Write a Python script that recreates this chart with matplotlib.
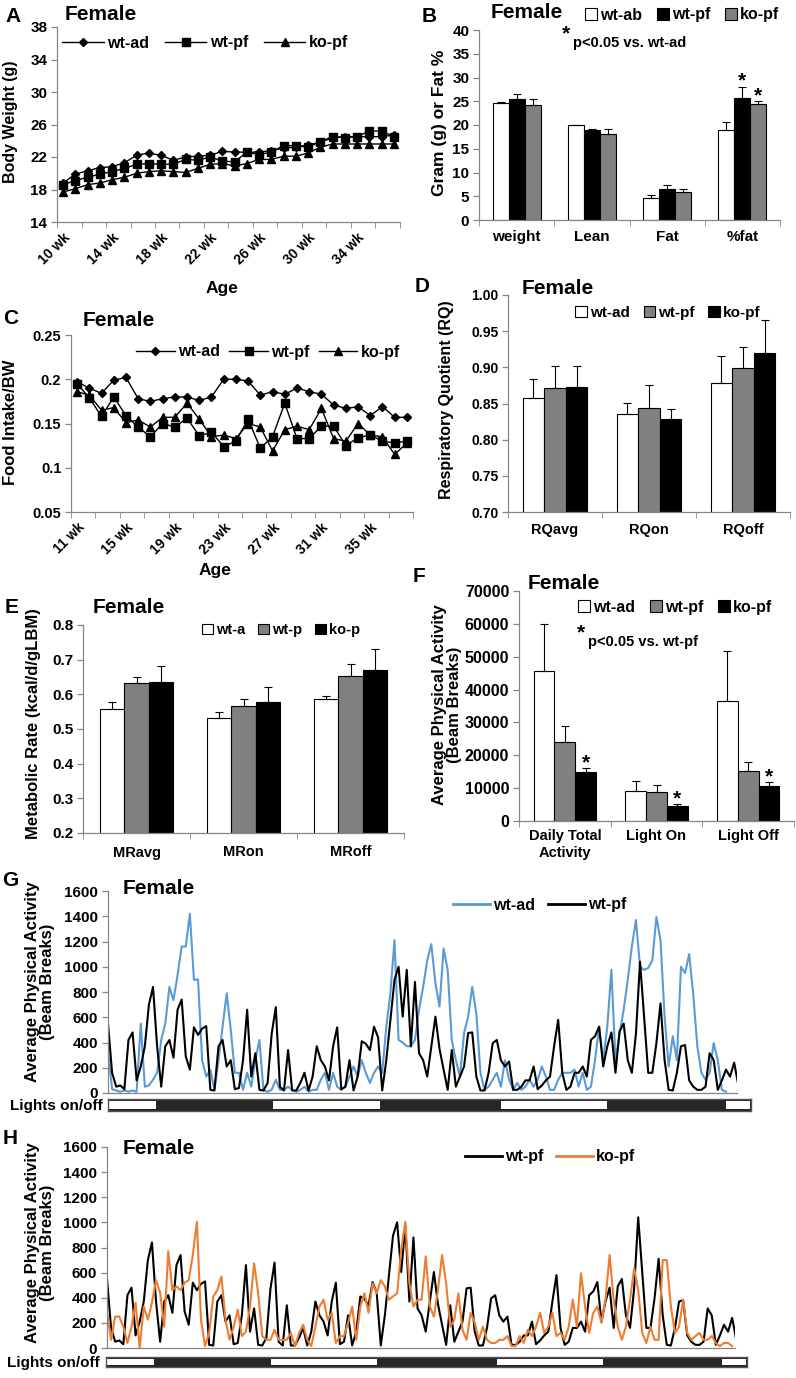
import numpy as np
import matplotlib
matplotlib.use('Agg')
import matplotlib.pyplot as plt
from matplotlib.patches import Patch
from matplotlib.lines import Line2D

plt.rcParams['font.family'] = ['Liberation Sans', 'DejaVu Sans']
plt.rcParams['font.weight'] = 'bold'

# ---------------- data ----------------
# A: body weight by age (weeks 10..37)
weeks_a = list(range(10, 38))
bw_wt_ad = [18.8, 19.9, 20.3, 20.7, 20.8, 21.3, 22.2, 22.5, 22.2, 21.6, 22.0, 22.1, 22.2, 22.7,
            22.6, 22.6, 22.6, 22.8, 23.1, 23.2, 23.5, 23.8, 24.4, 24.5, 24.5, 24.5, 24.5, 24.7]
bw_wt_pf = [18.6, 19.1, 19.5, 19.9, 20.2, 20.6, 21.1, 21.2, 21.1, 21.1, 21.7, 21.6, 22.0, 21.5,
            21.4, 22.6, 22.3, 22.6, 23.4, 23.4, 23.2, 23.9, 24.5, 24.4, 24.5, 25.2, 25.2, 24.5]
bw_ko_pf = [17.7, 18.1, 18.6, 18.8, 19.2, 19.5, 20.0, 20.2, 20.3, 20.2, 20.1, 20.6, 21.1, 21.2,
            20.9, 21.2, 21.7, 21.7, 22.1, 22.1, 22.5, 23.2, 23.6, 23.6, 23.6, 23.6, 23.6, 23.6]

# B: body composition
comp_cats = ['weight', 'Lean', 'Fat', '%fat']
comp_wt_ad = [24.6, 19.9, 4.7, 18.9]
comp_wt_ad_err = [0.3, 0.2, 0.6, 1.8]
comp_wt_pf = [25.5, 18.9, 6.5, 25.6]
comp_wt_pf_err = [1.0, 0.2, 0.8, 2.5]
comp_ko_pf = [24.2, 18.2, 6.0, 24.4]
comp_ko_pf_err = [1.3, 1.0, 0.5, 0.7]

# C: food intake / BW (weeks 11..38)
weeks_c = list(range(11, 39))
fi_wt_ad = [0.197, 0.190, 0.184, 0.199, 0.202, 0.178, 0.175, 0.178, 0.180, 0.180, 0.176, 0.180, 0.200, 0.200,
            0.198, 0.182, 0.186, 0.183, 0.190, 0.186, 0.183, 0.171, 0.167, 0.169, 0.159, 0.169, 0.157, 0.157]
fi_wt_pf = [0.195, 0.179, 0.158, 0.180, 0.159, 0.146, 0.135, 0.150, 0.146, 0.156, 0.136, 0.140, 0.124, 0.130,
            0.155, 0.122, 0.135, 0.173, 0.133, 0.133, 0.147, 0.147, 0.125, 0.134, 0.137, 0.130, 0.128, 0.130]
fi_ko_pf = [0.186, 0.182, 0.165, 0.168, 0.151, 0.154, 0.146, 0.157, 0.157, 0.173, 0.155, 0.135, 0.137, 0.133,
            0.150, 0.146, 0.119, 0.143, 0.147, 0.143, 0.167, 0.133, 0.130, 0.150, 0.137, 0.135, 0.115, 0.128]

# D: respiratory quotient
rq_cats = ['RQavg', 'RQon', 'RQoff']
rq_wt_ad = [0.857, 0.835, 0.878]
rq_wt_ad_err = [0.027, 0.016, 0.038]
rq_wt_pf = [0.871, 0.844, 0.899]
rq_wt_pf_err = [0.031, 0.031, 0.029]
rq_ko_pf = [0.873, 0.828, 0.920]
rq_ko_pf_err = [0.029, 0.014, 0.046]

# E: metabolic rate
mr_cats = ['MRavg', 'MRon', 'MRoff']
mr_wt_ad = [0.558, 0.531, 0.587]
mr_wt_ad_err = [0.021, 0.019, 0.009]
mr_wt_pf = [0.634, 0.565, 0.654]
mr_wt_pf_err = [0.015, 0.021, 0.034]
mr_ko_pf = [0.635, 0.579, 0.670]
mr_ko_pf_err = [0.047, 0.043, 0.061]

# F: physical activity
pa_cats = ['Daily Total\nActivity', 'Light On', 'Light Off']
pa_wt_ad = [45600, 9200, 36600]
pa_wt_ad_err = [14300, 3000, 15200]
pa_wt_pf = [23900, 8900, 15300]
pa_wt_pf_err = [5000, 2200, 2700]
pa_ko_pf = [15000, 4600, 10600]
pa_ko_pf_err = [1000, 500, 1300]

# G/H: activity time course (one value per 26 min bin)
sample_min = 26
act_wt_pf = [550, 160, 50, 60, 30, 420, 480, 100, 210, 370,
             700, 840, 370, 50, 370, 420, 280, 660, 740, 290,
             185, 520, 460, 510, 530, 25, 20, 370, 420, 210,
             260, 30, 40, 260, 660, 130, 315, 25, 20, 80,
             470, 680, 50, 20, 340, 20, 20, 80, 160, 20,
             130, 370, 260, 210, 100, 370, 520, 30, 50, 260,
             20, 130, 410, 390, 340, 525, 440, 20, 260, 580,
             895, 1000, 605, 975, 370, 880, 315, 260, 130, 370,
             605, 350, 185, 25, 340, 50, 130, 210, 475, 480,
             130, 20, 20, 160, 395, 420, 260, 210, 250, 25,
             25, 50, 100, 100, 210, 30, 60, 100, 130, 370,
             580, 160, 25, 50, 160, 160, 210, 130, 420, 450,
             525, 210, 370, 480, 160, 490, 550, 260, 160, 470,
             1040, 600, 160, 160, 395, 710, 260, 25, 20, 160,
             370, 380, 100, 50, 25, 25, 50, 315, 260, 25,
             100, 185, 130, 240, 65]
act_wt_ad = [340, 30, 20, 10, 20, 10, 20, 10, 550, 50,
             60, 105, 160, 420, 550, 840, 735, 935, 1160, 1160,
             1420, 895, 900, 260, 130, 185, 25, 260, 525, 790,
             500, 160, 160, 25, 160, 50, 260, 420, 20, 10,
             25, 105, 25, 25, 50, 25, 10, 25, 50, 10,
             25, 25, 105, 160, 25, 160, 50, 25, 50, 130,
             210, 130, 260, 160, 80, 160, 210, 160, 525, 790,
             1210, 420, 400, 370, 370, 420, 660, 840, 1050, 1180,
             870, 685, 1145, 975, 420, 260, 130, 475, 605, 840,
             630, 160, 25, 50, 105, 160, 50, 260, 105, 25,
             80, 25, 50, 105, 50, 105, 210, 130, 25, 25,
             105, 160, 160, 160, 185, 50, 160, 25, 50, 260,
             525, 260, 525, 975, 260, 470, 660, 895, 1160, 1370,
             1000, 975, 990, 1050, 1395, 1210, 605, 210, 450, 260,
             1000, 950, 1100, 780, 370, 160, 105, 160, 395, 260,
             25, 10]
act_ko_pf = [290, 65, 250, 250, 170, 40, 170, 360, 0, 330,
             225, 360, 540, 440, 170, 770, 460, 490, 460, 520,
             540, 740, 1005, 225, 15, 120, 410, 460, 570, 225,
             65, 170, 305, 95, 130, 330, 675, 435, 95, 65,
             65, 145, 65, 65, 65, 120, 15, 120, 185, 65,
             15, 170, 330, 385, 225, 280, 40, 95, 95, 200,
             330, 65, 330, 435, 280, 515, 435, 540, 490, 385,
             410, 435, 780, 1005, 515, 330, 385, 385, 730, 330,
             250, 460, 740, 515, 170, 225, 435, 145, 65, 280,
             200, 65, 170, 65, 40, 40, 65, 65, 95, 15,
             15, 95, 40, 145, 95, 170, 280, 120, 170, 280,
             95, 120, 65, 170, 385, 170, 595, 330, 120, 280,
             330, 200, 385, 740, 385, 170, 65, 170, 385, 635,
             465, 120, 40, 170, 65, 65, 700, 700, 330, 120,
             170, 385, 120, 65, 95, 120, 65, 65, 95, 40,
             15, 40, 40, 15]
# light phases in hours (on, off, on, ...)
light_edges = [0, 5.2, 17.3, 28.9, 41.3, 52.8, 65.1, 67.9]

# ---------------- figure helpers ----------------
W, H = 796, 1378
fig = plt.figure(figsize=(W / 100, H / 100), dpi=100)
AXC = '#868686'
GRAY = '#808080'


def add_ax(l, t, r, b):
    return fig.add_axes([l / W, 1 - b / H, (r - l) / W, (b - t) / H])


def ftext(x, y, s, **kw):
    kw.setdefault('va', 'center')
    kw.setdefault('fontweight', 'bold')
    fig.text(x / W, 1 - y / H, s, **kw)


def style(ax, size):
    for s in ['top', 'right']:
        ax.spines[s].set_visible(False)
    for s in ['left', 'bottom']:
        ax.spines[s].set_color(AXC)
        ax.spines[s].set_linewidth(0.9)
    ax.tick_params(colors=AXC, labelcolor='black', labelsize=size, width=0.9, length=4, pad=3)
    for lab in ax.get_yticklabels():
        lab.set_fontweight('bold')


def cat_axis(ax, n, labels, pad):
    ax.set_xlim(-0.5, n - 0.5)
    ax.set_xticks(np.arange(n))
    ax.set_xticklabels(labels, fontweight='bold')
    ax.set_xticks(np.arange(-0.5, n, 1), minor=True)
    ax.tick_params(axis='x', which='major', length=0, pad=pad)
    ax.tick_params(axis='x', which='minor', length=4, color=AXC)


def bars(ax, series, errs, colors, width):
    x = np.arange(len(series[0]))
    for k, (v, e, c) in enumerate(zip(series, errs, colors)):
        xs = x + (k - 1) * width
        ax.bar(xs, v, width, color=c, edgecolor='black', linewidth=0.8, zorder=2)
        ax.errorbar(xs, v, yerr=[np.zeros(len(v)), e], fmt='none', ecolor='black',
                    elinewidth=0.8, capsize=3, capthick=0.8, zorder=3)
    return x


def bar_legend(ax, labels, colors, cx, cy, size):
    hs = [Patch(facecolor=c, edgecolor='black', linewidth=0.8) for c in colors]
    ax.legend(hs, labels, loc='center', bbox_to_anchor=(cx / W, 1 - cy / H),
              bbox_transform=fig.transFigure, ncol=3, frameon=False, fontsize=size,
              handlelength=0.75, handleheight=0.75, handletextpad=0.2, columnspacing=0.9,
              prop={'weight': 'bold', 'size': size})


def star(ax, x, top, size=15):
    ax.annotate('*', (x, top), xytext=(0, -3), textcoords='offset points',
                ha='center', va='bottom', fontsize=size, fontweight='bold')


# ---------------- A ----------------
ax = add_ax(57, 27, 400, 222)
xa = np.arange(len(weeks_a))
ax.plot(xa, bw_wt_ad, '-D', color='black', ms=4.5, lw=1, label='wt-ad')
ax.plot(xa, bw_wt_pf, '-s', color='black', ms=6, lw=1, label='wt-pf')
ax.plot(xa, bw_ko_pf, '-^', color='black', ms=6, lw=1, label='ko-pf')
ax.set_ylim(14, 38)
ax.set_yticks(range(14, 39, 4))
style(ax, 11)
ax.set_xlim(-0.5, len(xa) - 0.5)
ax.set_xticks(xa[::4])
ax.set_xticklabels([f'{w} wk' for w in weeks_a[::4]], rotation=45, ha='right',
                   rotation_mode='anchor', fontweight='bold', fontsize=10)
ax.set_xticks(np.arange(-0.5, len(xa), 2), minor=True)
ax.tick_params(axis='x', which='major', length=0, pad=6)
ax.tick_params(axis='x', which='minor', length=4, color=AXC)
ax.legend(loc='center', bbox_to_anchor=(205 / W, 1 - 43 / H), bbox_transform=fig.transFigure,
          ncol=3, frameon=False, handlelength=2.6, handletextpad=0.2, columnspacing=1.0,
          prop={'weight': 'bold', 'size': 11.5})
ftext(5, 17, 'A', fontsize=15)
ftext(65, 15, 'Female', fontsize=15)
ftext(11, 122, 'Body Weight (g)', rotation=90, ha='center', fontsize=11.5)
ftext(222, 288, 'Age', ha='center', fontsize=12.5)

# ---------------- B ----------------
ax = add_ax(479, 30, 780, 220)
xb = bars(ax, [comp_wt_ad, comp_wt_pf, comp_ko_pf],
          [comp_wt_ad_err, comp_wt_pf_err, comp_ko_pf_err], ['white', 'black', GRAY], 0.213)
ax.set_ylim(0, 40)
ax.set_yticks(range(0, 41, 5))
style(ax, 11)
cat_axis(ax, len(comp_cats), comp_cats, 7)
ax.tick_params(axis='x', labelsize=11)
star(ax, xb[3], comp_wt_pf[3] + comp_wt_pf_err[3])
star(ax, xb[3] + 0.213, comp_ko_pf[3] + comp_ko_pf_err[3])
bar_legend(ax, ['wt-ab', 'wt-pf', 'ko-pf'], ['white', 'black', GRAY], 682, 15, 11.5)
ftext(422, 17, 'B', fontsize=15)
ftext(491, 12, 'Female', fontsize=15)
ftext(566, 34, '*', ha='center', fontsize=15)
ftext(573, 43, 'p<0.05 vs. wt-ad', fontsize=10.5)
ftext(440, 123, 'Gram (g) or Fat %', rotation=90, ha='center', fontsize=12.5)

# ---------------- C ----------------
ax = add_ax(71, 335, 413, 512)
xc = np.arange(len(weeks_c))
ax.plot(xc, fi_wt_ad, '-D', color='black', ms=4.5, lw=1, label='wt-ad')
ax.plot(xc, fi_wt_pf, '-s', color='black', ms=6, lw=1, label='wt-pf')
ax.plot(xc, fi_ko_pf, '-^', color='black', ms=6, lw=1, label='ko-pf')
c_ticks = [0.05, 0.1, 0.15, 0.2, 0.25]
ax.set_ylim(0.05, 0.25)
ax.set_yticks(c_ticks)
ax.set_yticklabels([f'{v:g}' for v in c_ticks])
style(ax, 10.5)
ax.set_xlim(-0.5, len(xc) - 0.5)
ax.set_xticks(xc[::4])
ax.set_xticklabels([f'{w} wk' for w in weeks_c[::4]], rotation=45, ha='right',
                   rotation_mode='anchor', fontweight='bold', fontsize=10)
ax.set_xticks(np.arange(-0.5, len(xc), 2), minor=True)
ax.tick_params(axis='x', which='major', length=0, pad=6)
ax.tick_params(axis='x', which='minor', length=4, color=AXC)
ax.legend(loc='center', bbox_to_anchor=(268 / W, 1 - 352 / H), bbox_transform=fig.transFigure,
          ncol=3, frameon=False, handlelength=2.4, handletextpad=0.2, columnspacing=0.6,
          prop={'weight': 'bold', 'size': 11.5})
ftext(3, 318, 'C', fontsize=15)
ftext(83, 320, 'Female', fontsize=15)
ftext(11, 422, 'Food Intake/BW', rotation=90, ha='center', fontsize=12)
ftext(215, 571, 'Age', ha='center', fontsize=12.5)

# ---------------- D ----------------
ax = add_ax(508, 295, 790, 512)
bars(ax, [rq_wt_ad, rq_wt_pf, rq_ko_pf], [rq_wt_ad_err, rq_wt_pf_err, rq_ko_pf_err],
     ['white', GRAY, 'black'], 0.23)
ax.set_ylim(0.70, 1.00)
d_ticks = [0.70, 0.75, 0.80, 0.85, 0.90, 0.95, 1.00]
ax.set_yticks(d_ticks)
ax.set_yticklabels([f'{v:.2f}' for v in d_ticks])
style(ax, 10)
cat_axis(ax, len(rq_cats), rq_cats, 8)
ax.tick_params(axis='x', labelsize=10.5)
bar_legend(ax, ['wt-ad', 'wt-pf', 'ko-pf'], ['white', GRAY, 'black'], 668, 313, 11)
ftext(415, 287, 'D', fontsize=15)
ftext(522, 288, 'Female', fontsize=15)
ftext(446, 400, 'Respiratory Quotient (RQ)', rotation=90, ha='center', fontsize=11.5)

# ---------------- E ----------------
ax = add_ax(83, 625, 404, 833)
bars(ax, [mr_wt_ad, mr_wt_pf, mr_ko_pf], [mr_wt_ad_err, mr_wt_pf_err, mr_ko_pf_err],
     ['white', GRAY, 'black'], 0.225)
ax.set_ylim(0.2, 0.8)
e_ticks = [0.2, 0.3, 0.4, 0.5, 0.6, 0.7, 0.8]
ax.set_yticks(e_ticks)
ax.set_yticklabels([f'{v:.1f}' for v in e_ticks])
style(ax, 11)
cat_axis(ax, len(mr_cats), mr_cats, 9)
ax.tick_params(axis='x', labelsize=10.5)
bar_legend(ax, ['wt-a', 'wt-p', 'ko-p'], ['white', GRAY, 'black'], 281, 630, 10.5)
ftext(5, 607, 'E', fontsize=15)
ftext(93, 607, 'Female', fontsize=15)
ftext(34, 724, 'Metabolic Rate (kcal/d/gLBM)', rotation=90, ha='center', fontsize=12)

# ---------------- F ----------------
ax = add_ax(519, 591, 794, 821)
xf = bars(ax, [pa_wt_ad, pa_wt_pf, pa_ko_pf], [pa_wt_ad_err, pa_wt_pf_err, pa_ko_pf_err],
          ['white', GRAY, 'black'], 0.226)
ax.set_ylim(0, 70000)
ax.set_yticks(range(0, 70001, 10000))
style(ax, 11.5)
cat_axis(ax, len(pa_cats), pa_cats, 6)
ax.tick_params(axis='x', labelsize=10.5)
for i in range(len(pa_cats)):
    star(ax, xf[i] + 0.226, pa_ko_pf[i] + pa_ko_pf_err[i])
bar_legend(ax, ['wt-ad', 'wt-pf', 'ko-pf'], ['white', GRAY, 'black'], 675, 607, 11.5)
ftext(413, 577, 'F', fontsize=15)
ftext(528, 583, 'Female', fontsize=15)
ftext(581, 633, '*', ha='center', fontsize=15)
ftext(588, 642, 'p<0.05 vs. wt-pf', fontsize=10.5)
ftext(447, 705, 'Average Physical Activity\n(Beam Breaks)', rotation=90, ha='center',
      fontsize=12, linespacing=1.0)


# ---------------- G / H ----------------
def activity(box, lbox, series, colors, names, leg_xy, letter, letter_xy, title_xy,
             ylab_xy, lights_xy):
    ax = add_ax(*box)
    for s, c in zip(series, colors):
        t = np.arange(len(s)) * sample_min / 60
        ax.plot(t, s, color=c, lw=1.5)
    ax.set_xlim(0, 66.6)
    ax.set_ylim(0, 1600)
    ax.set_yticks(range(0, 1601, 200))
    style(ax, 11)
    ax.set_xticks([])
    hs = [Line2D([], [], color=c, lw=2) for c in colors]
    ax.legend(hs, names, loc='center', bbox_to_anchor=(leg_xy[0] / W, 1 - leg_xy[1] / H),
              bbox_transform=fig.transFigure, ncol=2, frameon=False, handlelength=2.3,
              handletextpad=0.2, columnspacing=0.8, prop={'weight': 'bold', 'size': 11.5})
    ftext(letter_xy[0], letter_xy[1], letter, fontsize=15)
    ftext(title_xy[0], title_xy[1], 'Female', fontsize=15)
    ftext(ylab_xy[0], ylab_xy[1], 'Average Physical Activity\n(Beam Breaks)', rotation=90,
          ha='center', fontsize=12, linespacing=1.0)
    # lights bar
    lx = add_ax(*lbox)
    lx.set_facecolor('#262626')
    for i in range(0, len(light_edges) - 1, 2):
        w = light_edges[i + 1] - light_edges[i]
        lx.barh(0.5, w - 0.3, left=light_edges[i] + 0.15, height=0.62, color='white', lw=0)
    lx.set_xlim(0, light_edges[-1])
    lx.set_ylim(0, 1)
    lx.set_xticks([])
    lx.set_yticks([])
    for s in lx.spines.values():
        s.set_color('#555555')
        s.set_linewidth(1)
    ftext(lights_xy[0], lights_xy[1], 'Lights on/off', fontsize=11)


BLUE = '#5B9BD5'
ORANGE = '#ED7D31'
activity((108, 891, 737, 1093), (108, 1099, 751, 1111), [act_wt_ad, act_wt_pf],
         [BLUE, 'black'], ['wt-ad', 'wt-pf'], (540, 905), 'G', (2, 881), (123, 889),
         (40, 982), (10, 1106))
activity((107, 1147, 735, 1348), (106, 1357, 747, 1367), [act_wt_pf, act_ko_pf],
         ['black', ORANGE], ['wt-pf', 'ko-pf'], (550, 1157), 'H', (3, 1139), (123, 1149),
         (40, 1243), (7, 1363))

fig.savefig('out.png', dpi=100)
